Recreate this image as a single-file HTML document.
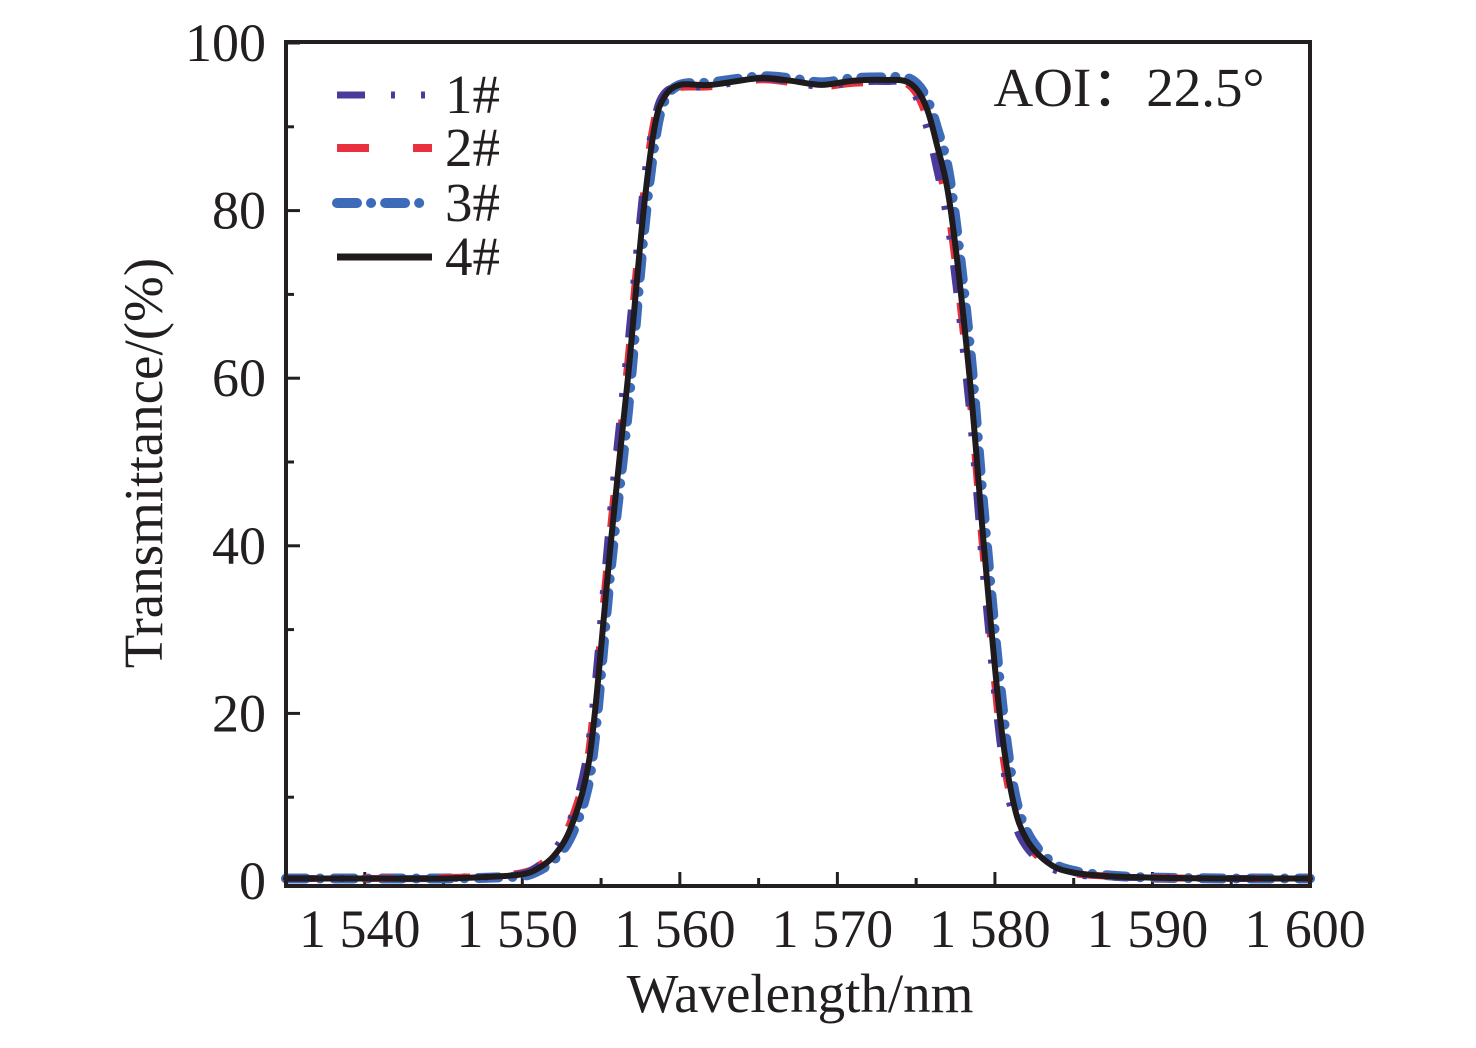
<!DOCTYPE html>
<html><head><meta charset="utf-8"><style>
body{margin:0;background:#fff}
text{font-family:"Liberation Serif",serif;fill:#231f20}
</style></head><body>
<svg id="chart" width="1476" height="1043" xmlns="http://www.w3.org/2000/svg">
<g id="axes"></g>
<g id="series"></g>
<g id="frame"></g>
<text x="1129" y="106" font-size="55" text-anchor="middle">AOI：22.5°</text>
<text x="800" y="1012" font-size="55" text-anchor="middle">Wavelength/nm</text>
<text transform="translate(162,463) rotate(-90)" font-size="55" text-anchor="middle">Transmittance/(%)</text>
<g id="legend"></g>
</svg>
<script>
const xGrid=[1535,1540,1545,1548,1550,1551,1552,1553,1554,1554.6,1555.6,1556.7,1557.7,1558.4,1559,1560,1562,1565,1567,1569,1571,1573,1574.5,1575.5,1576.3,1577.2,1578.4,1579.3,1580.3,1581.1,1582,1583.5,1585,1587,1590,1595,1600];
const s1=[0.3,0.3,0.3,0.5,0.9,1.8,3.6,7,14,23,44,64,83,91,94,94.8,94.8,95.8,95.4,94.8,95.3,95.4,95,91,85,76,56,36,17,8,4,1.6,0.8,0.5,0.4,0.3,0.3];
const s2=[0.3,0.3,0.4,0.6,1,1.8,3.4,6.8,13,22,42,62,82,91,94,94.7,94.8,95.6,95.3,94.8,95.2,95.2,95,92,86,78,58,38,18,9,4.5,1.8,0.9,0.6,0.4,0.3,0.3];
const s3=[0.3,0.3,0.3,0.4,0.6,1.2,2.5,5,10,17,37,56,77,88,93,95,95.3,96,95.8,95.3,95.8,95.9,95.8,94,90,83,64,44,24,12,6,2.4,1.2,0.7,0.4,0.3,0.3];
const s4=[0.3,0.3,0.3,0.5,0.8,1.5,3,6,12,20,40,60,80,90,93.5,95,95,95.8,95.5,95,95.5,95.6,95.3,93,88,80,60,40,20,10,5,2,1,0.6,0.4,0.3,0.3];
const xTicks=[1540,1550,1560,1570,1580,1590,1600];
const xTickLabels=["1 540","1 550","1 560","1 570","1 580","1 590","1 600"];
const yTicks=[0,20,40,60,80,100];
const NS="http://www.w3.org/2000/svg";
const L=286,R=1310,T=42,B=886;
const X=v=>L+(v-1535)*(R-L)/65;
const Y=v=>881-v*8.38;
function mk(tag,attrs,parent){const e=document.createElementNS(NS,tag);for(const k in attrs)e.setAttribute(k,attrs[k]);parent.appendChild(e);return e;}
const axes=document.getElementById('axes');
for(let i=0;i<xTicks.length;i++){const x=X(xTicks[i]);
 const t=mk('line',{x1:x,x2:x,y1:B,y2:B-14,stroke:'#231f20','stroke-width':3},axes);
 
 
 const lb=mk('text',{x:x-5,y:947,'font-size':54,'text-anchor':'middle'},axes);lb.textContent=xTickLabels[i];
 
 
 const m=X(xTicks[i]-5);
 const mt=mk('line',{x1:m,x2:m,y1:B,y2:B-8,stroke:'#231f20','stroke-width':3},axes);
 
 
}
for(const v of yTicks){const y=Y(v);
 const t=mk('line',{x1:L,x2:L+14,y1:y,y2:y,stroke:'#231f20','stroke-width':3},axes);
 
 
 const lb=mk('text',{x:266,y:y+18,'font-size':54,'text-anchor':'end'},axes);lb.textContent=v;
 
 
 if(v<100){const m=Y(v+10);const mt=mk('line',{x1:L,x2:L+8,y1:m,y2:m,stroke:'#231f20','stroke-width':3},axes);
 
 }
}
const frame=document.getElementById('frame');
const fr=mk('rect',{x:L,y:T,width:R-L,height:B-T,fill:'none',stroke:'#231f20','stroke-width':4},frame);


function path(ys){const p=xGrid.map((x,i)=>[X(x),Y(ys[i])]);let d='M'+p[0][0]+','+p[0][1];
 for(let i=0;i<p.length-1;i++){const p0=p[i-1]||p[i],p1=p[i],p2=p[i+1],p3=p[i+2]||p2;
 const c1=[p1[0]+(p2[0]-p0[0])/6,p1[1]+(p2[1]-p0[1])/6],c2=[p2[0]-(p3[0]-p1[0])/6,p2[1]-(p3[1]-p1[1])/6];
 d+=' C'+c1[0].toFixed(1)+','+c1[1].toFixed(1)+' '+c2[0].toFixed(1)+','+c2[1].toFixed(1)+' '+p2[0].toFixed(1)+','+p2[1].toFixed(1);}
 return d;}
const styles=[
 {ys:s3,c:'#3e6bb8',w:10,da:'20 14 0.1 14',cap:'round',n:'series-3'},
 {ys:s2,c:'#e8303f',w:7,da:'32 44',cap:'butt',n:'series-2'},
 {ys:s1,c:'#4a3a9a',w:7,da:'28 26 4 26 4 26',cap:'butt',n:'series-1'},
 {ys:s4,c:'#1f1a1c',w:6,da:'none',cap:'round',n:'series-4'}];
const sg=document.getElementById('series');
for(const s of styles){const e=mk('path',{d:path(s.ys),fill:'none',stroke:s.c,'stroke-width':s.w,'stroke-dasharray':s.da,'stroke-linecap':s.cap,'stroke-linejoin':'round'},sg);
 
 }
const lg=document.getElementById('legend');
const leg=[{c:'#4a3a9a',w:7,da:'28 26 4 26 4 26',cap:'butt',t:'1#',y:95},{c:'#e8303f',w:8,da:'32 44',cap:'butt',t:'2#',y:148},{c:'#3e6bb8',w:10,da:'20 14 0.1 14',cap:'round',t:'3#',y:203},{c:'#1f1a1c',w:7,da:'none',cap:'butt',t:'4#',y:257}];
for(const l of leg){const ln=mk('line',{x1:337,x2:432,y1:l.y,y2:l.y,stroke:l.c,'stroke-width':l.w,'stroke-dasharray':l.da,'stroke-linecap':l.cap},lg);
 
 
 const tx=mk('text',{x:445,y:l.y+18,'font-size':55},lg);tx.textContent=l.t;
 
 }
</script>
</body></html>
